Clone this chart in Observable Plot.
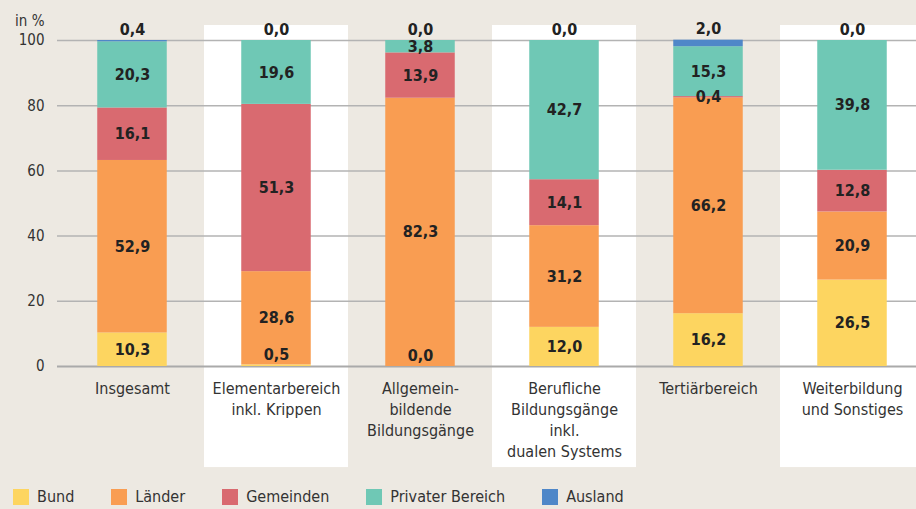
<!DOCTYPE html>
<html>
<head>
<meta charset="utf-8">
<script src="https://cdn.jsdelivr.net/npm/d3@7"></script>
<script src="https://cdn.jsdelivr.net/npm/@observablehq/plot@0.6"></script>
<style>
  html, body { margin: 0; padding: 0; background: #ede9e2; }
  body { width: 916px; height: 509px; overflow: hidden; font-family: "DejaVu Sans Condensed", sans-serif; }
  #legend { display: flex; gap: 37px; margin-left: 13px; margin-top: 17px; font-size: 16px; color: #333; }
  #legend .item { display: flex; align-items: center; gap: 8px; }
  #legend .sw { width: 16px; height: 16px; display: inline-block; }
</style>
</head>
<body>
<div id="chart"></div>
<div id="legend"></div>
<script>
const categories = ["Insgesamt", "Elementarbereich\ninkl. Krippen", "Allgemein-\nbildende\nBildungsgänge", "Berufliche\nBildungsgänge\ninkl.\ndualen Systems", "Tertiärbereich", "Weiterbildung\nund Sonstiges"];
const series = ["Bund", "Länder", "Gemeinden", "Privater Bereich", "Ausland"];
const colors = ["#fdd560", "#f99d52", "#d96a70", "#6fc8b5", "#4f87c8"];
const bund = [10.3, 0.5, 0.0, 12.0, 16.2, 26.5];
const laender = [52.9, 28.6, 82.3, 31.2, 66.2, 20.9];
const gemeinden = [16.1, 51.3, 13.9, 14.1, 0.4, 12.8];
const privat = [20.3, 19.6, 3.8, 42.7, 15.3, 39.8];
const ausland = [0.4, 0.0, 0.0, 0.0, 2.0, 0.0];
const yTicks = [0, 20, 40, 60, 80, 100];
const whiteColumns = [categories[1], categories[3], categories[5]];

const seriesValues = [bund, laender, gemeinden, privat, ausland];
const data = [];
categories.forEach((c, i) => {
  series.forEach((s, j) => data.push({category: c, series: s, value: seriesValues[j][i]}));
});
const fmt = v => d3.format(".1f")(v).replace(".", ",");
const stackOpts = {x: "category", y: "value", z: "series", order: series};

const plot = Plot.plot({
  width: 916,
  height: 470,
  marginTop: 40,
  marginBottom: 104,
  marginLeft: 57,
  marginRight: 0,
  style: {fontFamily: "DejaVu Sans Condensed, sans-serif", fontSize: "16px", background: "transparent", color: "#333"},
  x: {domain: categories, range: [58.75, 925.75], padding: 0},
  y: {domain: [0, 100]},
  color: {domain: series, range: colors},
  marks: [
    Plot.barY(whiteColumns, {x: d => d, y1: -31, y2: 104.6, fill: "white"}),
    Plot.ruleY(yTicks.filter(d => d > 0), {stroke: "#b3b3b3", strokeWidth: 1.5}),
    Plot.ruleY([0], {stroke: "#aaa", strokeWidth: 2}),
    Plot.barY(data, Plot.stackY({...stackOpts, fill: "series", insetLeft: 37.25, insetRight: 37.25})),
    Plot.text(data, Plot.stackY({...stackOpts,
      text: d => (d.series === "Ausland" || (d.series === "Bund" && d.value < 1)) ? "" : fmt(d.value),
      fontWeight: "bold", fontSize: 16, fill: "#222"})),
    Plot.text(data, Plot.stackY({...stackOpts,
      text: d => (d.series === "Bund" && d.value < 1) ? fmt(d.value) : "",
      dy: -11, fontWeight: "bold", fontSize: 16, fill: "#222"})),
    Plot.text(data, Plot.stackY2({...stackOpts,
      text: d => d.series === "Ausland" ? fmt(d.value) : "",
      dy: -11, fontWeight: "bold", fontSize: 16, fill: "#222"})),
    Plot.axisY({ticks: yTicks, tickSize: 0, tickPadding: 13, label: null, fontSize: 15, fill: "#333"}),
    Plot.text(["in %"], {frameAnchor: "top-left", dx: -13, dy: -25, textAnchor: "end", fontSize: 15, fill: "#333"}),
    Plot.axisX({tickSize: 0, tickPadding: 13, label: null, fontSize: 16, lineHeight: 1.3, fill: "#333", tickFormat: d => d})
  ]
});
document.getElementById("chart").appendChild(plot);

const legend = document.getElementById("legend");
series.forEach((s, i) => {
  const item = document.createElement("div");
  item.className = "item";
  const sw = document.createElement("span");
  sw.className = "sw";
  sw.style.background = colors[i];
  const t = document.createElement("span");
  t.textContent = s;
  item.appendChild(sw);
  item.appendChild(t);
  legend.appendChild(item);
});
</script>
</body>
</html>
